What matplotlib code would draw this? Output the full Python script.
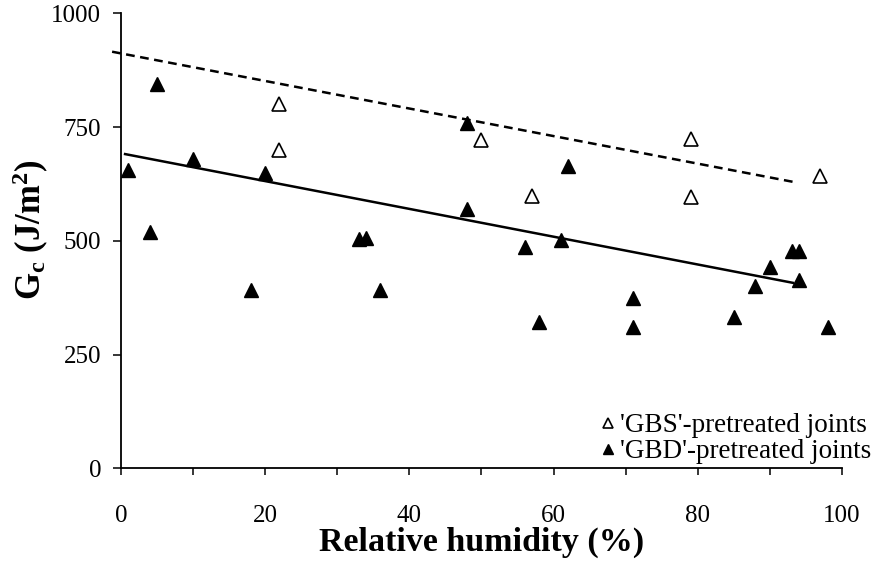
import matplotlib
matplotlib.use("Agg")
import matplotlib.pyplot as plt
from matplotlib.ticker import MultipleLocator

plt.rcParams['font.family'] = ['Liberation Serif', 'DejaVu Serif']
plt.rcParams['mathtext.fontset'] = 'custom'
plt.rcParams['mathtext.rm'] = 'Liberation Serif'
plt.rcParams['mathtext.bf'] = 'Liberation Serif:bold'

# 'GBS'-pretreated joints (open triangles)
gbs_rh = [22, 22, 50, 57, 79, 79, 97]
gbs_gc = [800, 699, 723, 598, 725, 596, 642]

# 'GBD'-pretreated joints (filled triangles)
gbd_rh = [1, 4, 5, 10, 18, 20, 33, 34, 36, 48, 48, 56, 58, 61, 62,
          71, 71, 85, 88, 90, 93, 94, 94, 98]
gbd_gc = [655, 519, 846, 681, 393, 650, 505, 507, 393, 760, 571, 486, 323, 503, 664,
          374, 310, 332, 400, 442, 479, 479, 415, 310]

# trend lines
gbs_fit_x = [-1.2, 93.2]
gbs_fit_y = [916, 630]
gbd_fit_x = [0.6, 93.2]
gbd_fit_y = [691, 408]

fig = plt.figure(figsize=(8.75, 5.62), dpi=100)
ax = fig.add_axes([0.138, 0.1664, 0.8243, 0.8096])

ax.plot(gbs_fit_x, gbs_fit_y, '--', color='black', lw=1.8, dashes=(3.5, 2.2), clip_on=False)
ax.plot(gbd_fit_x, gbd_fit_y, '-', color='black', lw=1.8)

ax.plot(gbs_rh, gbs_gc, '^', ms=10.5, mfc='white', mec='black', mew=1.2, ls='none',
        label="'GBS'-pretreated joints", clip_on=False)
ax.plot(gbd_rh, gbd_gc, '^', ms=10.5, mfc='black', mec='black', ls='none',
        label="'GBD'-pretreated joints", clip_on=False)

ax.set_xlim(0, 100)
ax.set_ylim(0, 1000)
ax.xaxis.set_major_locator(MultipleLocator(20))
ax.xaxis.set_minor_locator(MultipleLocator(10))
ax.yaxis.set_major_locator(MultipleLocator(250))

for s in ['top', 'right']:
    ax.spines[s].set_visible(False)
for s in ['left', 'bottom']:
    ax.spines[s].set_linewidth(1.3)

ax.tick_params(axis='x', which='both', direction='out', length=5, width=1.1, labelsize=18, pad=21)
ax.tick_params(axis='y', which='major', direction='out', length=6, width=1.1, labelsize=18, pad=8)

ax.set_xlabel('Relative humidity (%)', fontsize=24.5, fontweight='bold', labelpad=0)
ax.set_ylabel(r'$\mathbf{G_c}$ $\mathbf{(J/m^2)}$', fontsize=25)
ax.yaxis.set_label_coords(-0.097, 0.525)

leg = ax.legend(loc='lower right', bbox_to_anchor=(1.06, -0.02), frameon=False,
                fontsize=19.5, handlelength=0.6, handletextpad=0.15, labelspacing=0.02,
                markerscale=0.7, borderpad=0.2, borderaxespad=0.3)

fig.savefig('out.png', dpi=100)
